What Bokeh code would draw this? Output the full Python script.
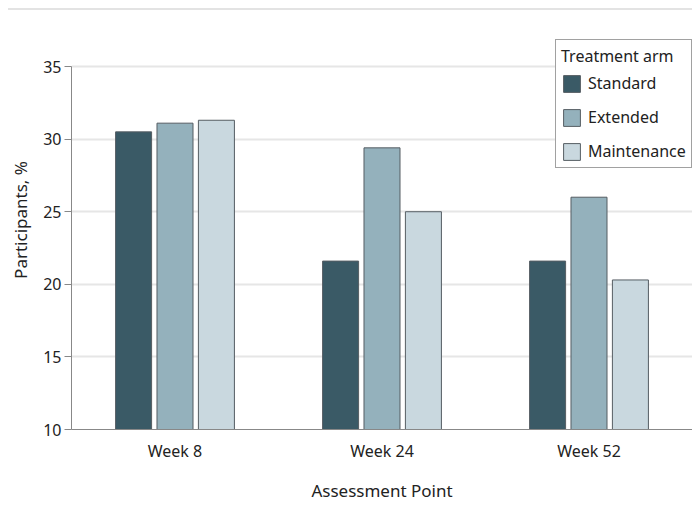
from bokeh.plotting import figure
from bokeh.layouts import column
from bokeh.models import (ColumnDataSource, FactorRange, FixedTicker, Legend, LegendItem, Div,
                          Range1d)
from bokeh.transform import dodge
from bokeh.embed import file_html
from bokeh.resources import INLINE

categories = ["Week 8", "Week 24", "Week 52"]
arms = ["Standard", "Extended", "Maintenance"]
standard = [30.5, 21.6, 21.6]
extended = [31.1, 29.4, 26.0]
maintenance = [31.3, 25.0, 20.3]
y_ticks = [10, 15, 20, 25, 30, 35]
colors = ["#3a5a66", "#94b1bc", "#c9d8df"]

FONT = "Noto Sans"
TXT = "#222222"

source = ColumnDataSource(dict(cat=categories, Standard=standard,
                               Extended=extended, Maintenance=maintenance))

# frame top sits at page y=10; 35 sits at page y=66 (14.52 px per unit)
p = figure(width=692, height=504, x_range=FactorRange(*categories, range_padding=0),
           y_range=Range1d(10, 38.86), output_backend="svg", toolbar_location=None,
           min_border_left=71, min_border_right=0, min_border_top=0, min_border_bottom=85)
p.outline_line_color = None

offsets = [-0.2, 0.0, 0.2]
renderers = []
for arm, off, col in zip(arms, offsets, colors):
    r = p.vbar(x=dodge("cat", off, range=p.x_range), top=arm, bottom=10, width=0.174,
               source=source, fill_color=col, line_color="#555d63", line_width=1)
    renderers.append(r)

p.xgrid.grid_line_color = None
p.ygrid.grid_line_color = "#e6e6e6"
p.ygrid.grid_line_width = 2
p.yaxis.ticker = FixedTicker(ticks=y_ticks)
p.yaxis.bounds = (10, 35)
p.yaxis.minor_tick_line_color = None
p.yaxis.major_tick_out = 7
p.yaxis.major_tick_in = 0
p.yaxis.axis_line_color = "#888888"
p.yaxis.major_tick_line_color = "#888888"
p.yaxis.major_label_standoff = 3
p.yaxis.axis_label = "Participants, %"
p.yaxis.axis_label_standoff = 8
p.xaxis.axis_line_color = "#888888"
p.xaxis.major_tick_line_color = None
p.xaxis.major_label_standoff = 4
p.xaxis.axis_label = "Assessment Point"
p.xaxis.axis_label_standoff = 14
for ax in (p.xaxis, p.yaxis):
    ax.major_label_text_font = FONT
    ax.major_label_text_font_size = "16px"
    ax.major_label_text_color = TXT
    ax.axis_label_text_font = FONT
    ax.axis_label_text_font_size = "17px"
    ax.axis_label_text_font_style = "normal"
    ax.axis_label_text_color = TXT

legend = Legend(items=[LegendItem(label=a, renderers=[r]) for a, r in zip(arms, renderers)],
                location=(484, 261), title="Treatment arm")
legend.title_text_font = FONT
legend.title_text_font_size = "16px"
legend.title_text_font_style = "normal"
legend.title_text_color = TXT
legend.title_standoff = 5
legend.label_text_font = FONT
legend.label_text_font_size = "16px"
legend.label_text_color = TXT
legend.glyph_width = 21
legend.glyph_height = 21
legend.label_standoff = 6
legend.spacing = 12
legend.padding = 5
legend.margin = 0
legend.border_line_color = "#444444"
legend.border_line_width = 1
legend.background_fill_color = "white"
legend.background_fill_alpha = 1
p.add_layout(legend)

top_rule = Div(text="", width=684, height=2, margin=(8, 0, 0, 8),
               styles={"background-color": "#e3e3e3"})

layout = column(top_rule, p, spacing=0)
open("out.html", "w").write(file_html(layout, INLINE))
